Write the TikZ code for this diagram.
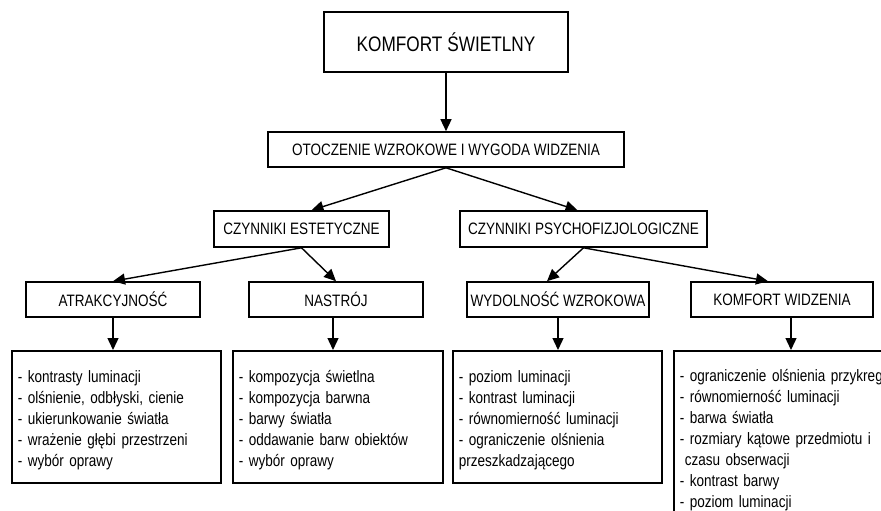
\documentclass[tikz,border=0pt]{standalone}
\usepackage{fontspec}
\setmainfont{Liberation Sans}[FakeStretch=0.82]
\usetikzlibrary{arrows.meta}

\tikzset{
  box/.style={draw,line width=1.6pt,inner sep=0pt,font=\fontsize{16.5}{20}\selectfont},
  list/.style={draw,line width=1.6pt,anchor=north west,align=left,inner xsep=6pt,inner ysep=13pt,minimum height=132pt,font=\fontsize{16.5}{21}\selectfont},
  arr/.style={line width=1.4pt,-{Triangle[length=12pt,width=11pt]}}
}

\begin{document}
\begin{tikzpicture}[x=1pt,y=-1pt]
\clip (0,0) rectangle (881,511);
% levels
\node[box,minimum width=244pt,minimum height=60pt,font=\fontsize{21}{24}\selectfont] (kswiat) at (446,42) {KOMFORT ŚWIETLNY};
\node[box,minimum width=356pt,minimum height=35pt] (otocz) at (446,149.5) {OTOCZENIE WZROKOWE I WYGODA WIDZENIA};
\node[box,minimum width=175pt,minimum height=36pt] (estet) at (301.5,229) {CZYNNIKI ESTETYCZNE};
\node[box,minimum width=247pt,minimum height=36pt] (psycho) at (583.5,229) {CZYNNIKI PSYCHOFIZJOLOGICZNE};
\node[box,minimum width=174pt,minimum height=35pt] (atrak) at (113,299.5) {ATRAKCYJNOŚĆ};
\node[box,minimum width=174pt,minimum height=35pt] (nastr) at (336,299.5) {NASTRÓJ};
\node[box,minimum width=182pt,minimum height=35pt] (wydol) at (558,299.5) {WYDOLNOŚĆ WZROKOWA};
\node[box,minimum width=182pt,minimum height=35pt] (kwidz) at (782,299.5) {KOMFORT WIDZENIA};
% lists
\node[list,text width=197pt] (latrak) at (11,350) {\rule{0pt}{18pt}- kontrasty luminacji\\- olśnienie, odbłyski, cienie\\- ukierunkowanie światła\\- wrażenie głębi przestrzeni\\- wybór oprawy};
\node[list,text width=198pt] (lnastr) at (232,350) {\rule{0pt}{18pt}- kompozycja świetlna\\- kompozycja barwna\\- barwy światła\\- oddawanie barw obiektów\\- wybór oprawy};
\node[list,text width=197pt] (lwydol) at (452,350) {\rule{0pt}{18pt}- poziom luminacji\\- kontrast luminacji\\- równomierność luminacji\\- ograniczenie olśnienia\\przeszkadzającego};
\node[list,text width=260pt] (lkwidz) at (673,350) {\rule{0pt}{18pt}- ograniczenie olśnienia przykrego\\- równomierność luminacji\\- barwa światła\\- rozmiary kątowe przedmiotu i\\\hspace*{5pt}czasu obserwacji\\- kontrast barwy\\- poziom luminacji};
% arrows
\draw[arr] (kswiat) -- (otocz);
\draw[arr] (otocz.south) -- ([xshift=10pt]estet.north);
\draw[arr] (otocz.south) -- ([xshift=-6pt]psycho.north);
\draw[arr] (estet.south) -- (atrak.north);
\draw[arr] (estet.south) -- (nastr.north);
\draw[arr] (psycho.south) -- ([xshift=-11pt]wydol.north);
\draw[arr] (psycho.south) -- ([xshift=-14pt]kwidz.north);
\draw[arr] (atrak.south) -- (atrak.south |- latrak.north);
\draw[arr] ([xshift=-3pt]nastr.south) -- ([xshift=-3pt]nastr.south |- lnastr.north);
\draw[arr] (wydol.south) -- (wydol.south |- lwydol.north);
\draw[arr] ([xshift=9pt]kwidz.south) -- ([xshift=9pt]kwidz.south |- lkwidz.north);
\end{tikzpicture}
\end{document}
